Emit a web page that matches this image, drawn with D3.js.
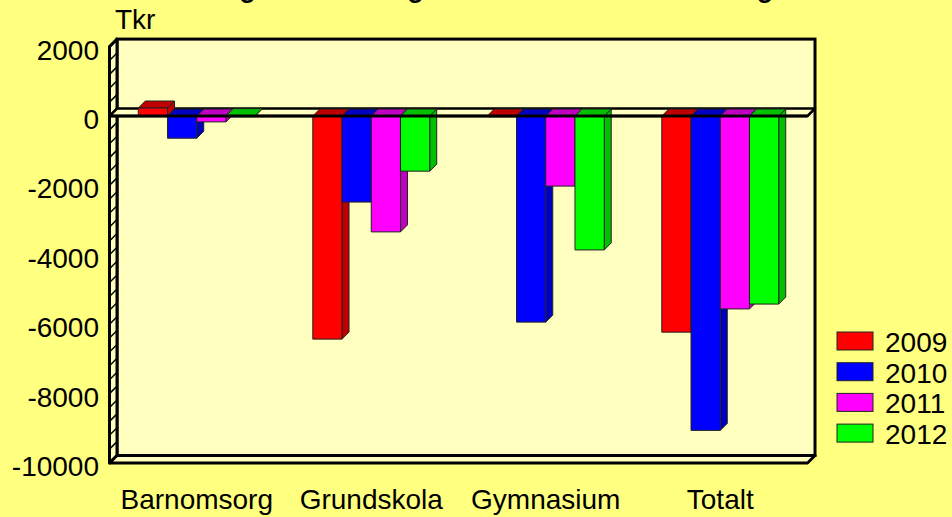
<!DOCTYPE html>
<html>
<head>
<meta charset="utf-8">
<script src="https://cdn.jsdelivr.net/npm/d3@7"></script>
<style>
  body { margin: 0; background: #FFFF80; }
  text { font-family: "Liberation Sans", Arial, sans-serif; }
</style>
</head>
<body>
<script>
// values in Tkr
const categories = ["Barnomsorg", "Grundskola", "Gymnasium", "Totalt"];
const years = ["2009", "2010", "2011", "2012"];
const v2009 = [230, -6430, -20, -6230];
const v2010 = [-640, -2480, -5940, -9060];
const v2011 = [-170, -3340, -2020, -5560];
const v2012 = [10, -1590, -3860, -5420];
const yTicks = [2000, 0, -2000, -4000, -6000, -8000, -10000];
const minorTicks = d3.range(-10000, 2001, 400);

const colors = ["#FF0000", "#0000FF", "#FF00FF", "#00FF00"];
const darker = ["#C00000", "#0000C0", "#C000C0", "#00C000"];
const series = [v2009, v2010, v2011, v2012];

const W = 952, H = 517;
const d = 7.5;   // depth of walls
const bd = 7;    // depth of bars
const x0 = 109.5, x1 = 807.5;

const svg = d3.select("body").append("svg").attr("width", W).attr("height", H);
svg.append("rect").attr("width", W).attr("height", H).attr("fill", "#FFFF80");

// title, mostly cut off at the top edge
svg.append("text").attr("x", W / 2 + 4).attr("y", -3.5)
  .attr("text-anchor", "middle").attr("font-size", 27).attr("font-weight", "bold")
  .text("Budgetavvikelse grundskola och barnomsorg");

const y = d3.scaleLinear().domain([-10000, 2000]).range([463, 46.6]);
const x = d3.scaleBand().domain(categories).range([x0, x1]).paddingInner(0.33).paddingOuter(0.165);
const xi = d3.scaleBand().domain(years).range([0, x.bandwidth()]);

const wall = "#FFFFC0";
const yTop = y(2000), yBot = y(-10000), yZero = y(0);

// back wall
svg.append("rect").attr("x", x0 + d).attr("y", yTop - d)
  .attr("width", x1 - x0).attr("height", yBot - yTop)
  .attr("fill", wall).attr("stroke", "#000").attr("stroke-width", 3);

// left wall
const poly = pts => pts.map(p => p.join(",")).join(" ");
svg.append("polygon")
  .attr("points", poly([[x0, yTop], [x0 + d, yTop - d], [x0 + d, yBot - d], [x0, yBot]]))
  .attr("fill", wall).attr("stroke", "#000").attr("stroke-width", 3).attr("stroke-linejoin", "round");
svg.selectAll(".hatch").data(minorTicks).join("line")
  .attr("x1", x0).attr("y1", v => y(v)).attr("x2", x0 + d).attr("y2", v => y(v) - d)
  .attr("stroke", "#000").attr("stroke-width", 1.5);

// floor
svg.append("polygon")
  .attr("points", poly([[x0, yBot], [x1, yBot], [x1 + d, yBot - d], [x0 + d, yBot - d]]))
  .attr("fill", wall).attr("stroke", "#000").attr("stroke-width", 3).attr("stroke-linejoin", "round");

// zero plane
svg.append("polygon")
  .attr("points", poly([[x0, yZero], [x1, yZero], [x1 + d, yZero - d], [x0 + d, yZero - d]]))
  .attr("fill", wall).attr("stroke", "#000").attr("stroke-width", 2.5).attr("stroke-linejoin", "round");

// bars, left to right
const bars = [];
categories.forEach((c, ci) => {
  years.forEach((yr, si) => {
    bars.push({ c, yr, si, v: series[si][ci] });
  });
});
const bw = xi.bandwidth();
const g = svg.append("g");
bars.forEach(b => {
  const bx = x(b.c) + xi(b.yr);
  const ya = y(Math.max(0, b.v)), yb = y(Math.min(0, b.v));
  const gb = g.append("g").attr("stroke", "#222").attr("stroke-width", 1).attr("stroke-linejoin", "round");
  // side
  gb.append("polygon")
    .attr("points", poly([[bx + bw, ya], [bx + bw + bd, ya - bd], [bx + bw + bd, yb - bd], [bx + bw, yb]]))
    .attr("fill", darker[b.si]);
  // top
  gb.append("polygon")
    .attr("points", poly([[bx, ya], [bx + bw, ya], [bx + bw + bd, ya - bd], [bx + bd, ya - bd]]))
    .attr("fill", darker[b.si]);
  // front
  gb.append("rect").attr("x", bx).attr("y", ya).attr("width", bw).attr("height", Math.max(0, yb - ya))
    .attr("fill", colors[b.si]);
});

// front edge of zero plane on top of bars
svg.append("line").attr("x1", x0).attr("x2", x1).attr("y1", yZero).attr("y2", yZero)
  .attr("stroke", "#000").attr("stroke-width", 3);

// y axis labels
svg.selectAll(".ylab").data(yTicks).join("text")
  .attr("x", 99).attr("y", v => y(v) + 13)
  .attr("text-anchor", "end").attr("font-size", 28)
  .text(v => v);

svg.append("text").attr("x", 115).attr("y", 29).attr("font-size", 28).text("Tkr");

// category labels
svg.selectAll(".xlab").data(categories).join("text")
  .attr("x", c => x(c) + x.bandwidth() / 2).attr("y", 509)
  .attr("text-anchor", "middle").attr("font-size", 28)
  .text(c => c);

// legend
const leg = svg.append("g").attr("transform", "translate(837,332)");
years.forEach((yr, i) => {
  leg.append("rect").attr("x", 0).attr("y", i * 30.7).attr("width", 36).attr("height", 18)
    .attr("fill", colors[i]).attr("stroke", "#222").attr("stroke-width", 1);
  leg.append("text").attr("x", 48).attr("y", i * 30.7 + 20).attr("font-size", 28).text(yr);
});
</script>
</body>
</html>
